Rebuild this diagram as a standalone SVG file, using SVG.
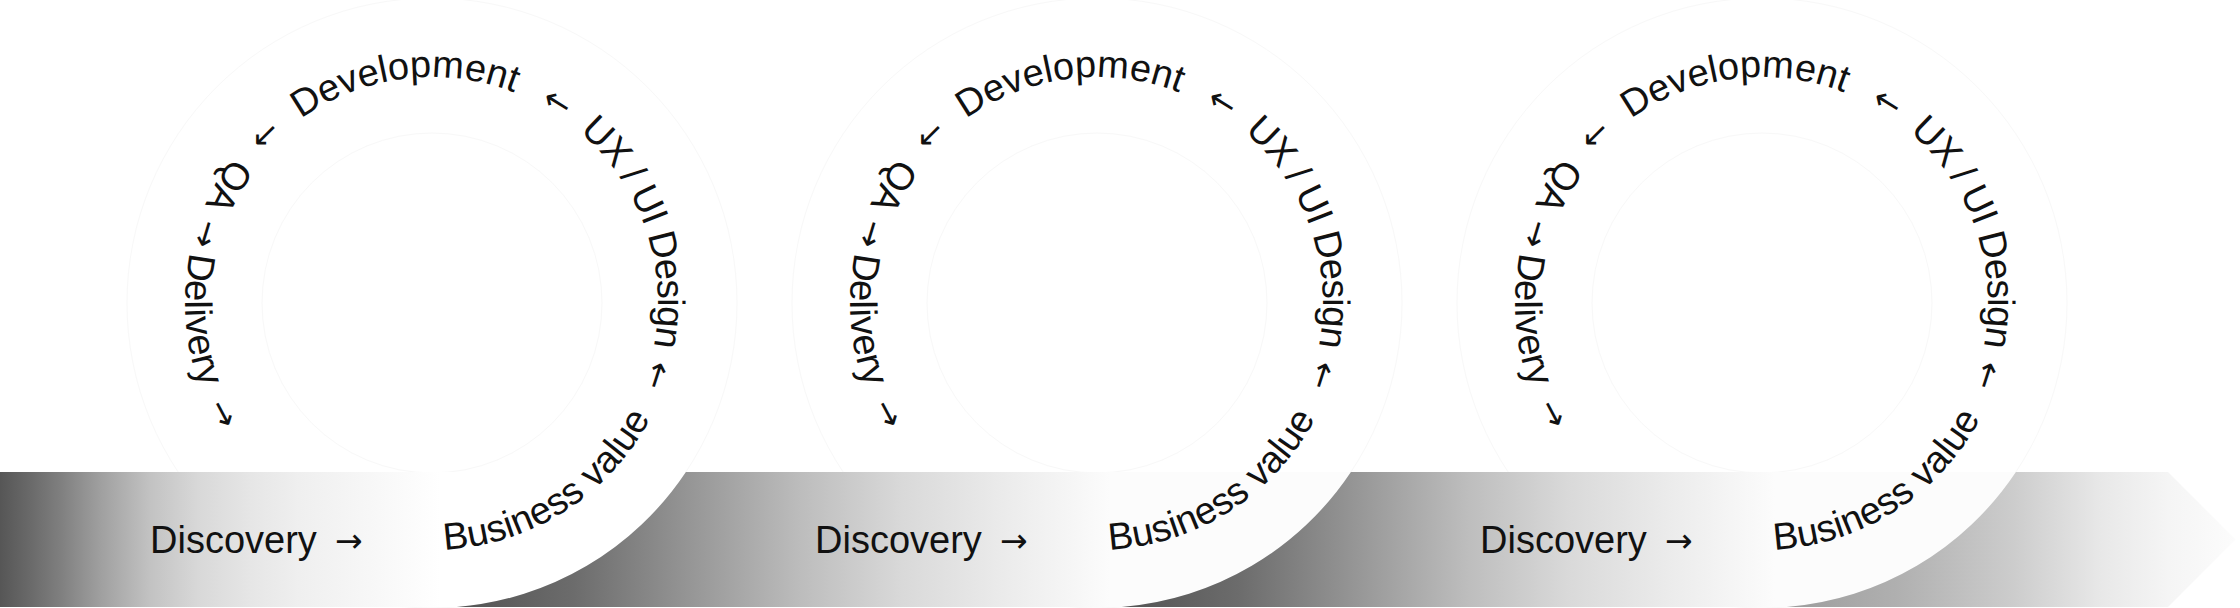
<svg xmlns="http://www.w3.org/2000/svg" xmlns:xlink="http://www.w3.org/1999/xlink" width="2240" height="608" viewBox="0 0 2240 608">
<style>
.lbl{font-family:"Liberation Sans",Arial,sans-serif;font-size:38px;fill:#111}
.tight{letter-spacing:-1px}
.arr{font-family:"DejaVu Sans","Liberation Sans",sans-serif;font-size:33px;fill:#111}
.faint{fill:none;stroke:#f8f8f8;stroke-width:1}
</style>
<defs>
<linearGradient id="g1" gradientUnits="userSpaceOnUse" x1="0" y1="0" x2="440" y2="0">
<stop offset="0" stop-color="#565656"/><stop offset="0.07" stop-color="#6a6a6a"/><stop offset="0.14" stop-color="#808080"/><stop offset="0.23" stop-color="#a0a0a0"/><stop offset="0.34" stop-color="#c2c2c2"/><stop offset="0.45" stop-color="#d8d8d8"/><stop offset="0.57" stop-color="#e6e6e6"/><stop offset="0.68" stop-color="#efefef"/><stop offset="0.9" stop-color="#fafafa"/><stop offset="1" stop-color="#ffffff"/>
</linearGradient>
<linearGradient id="g2" gradientUnits="userSpaceOnUse" x1="440" y1="0" x2="1110" y2="0">
<stop offset="0" stop-color="#4f4f4f"/><stop offset="0.2" stop-color="#6c6c6c"/><stop offset="0.37" stop-color="#959595"/><stop offset="0.54" stop-color="#bdbdbd"/><stop offset="0.69" stop-color="#d9d9d9"/><stop offset="0.84" stop-color="#ebebeb"/><stop offset="1" stop-color="#fcfcfc"/>
</linearGradient>
<linearGradient id="g3" gradientUnits="userSpaceOnUse" x1="1105" y1="0" x2="1775" y2="0">
<stop offset="0" stop-color="#4f4f4f"/><stop offset="0.2" stop-color="#6c6c6c"/><stop offset="0.37" stop-color="#959595"/><stop offset="0.54" stop-color="#bdbdbd"/><stop offset="0.69" stop-color="#d9d9d9"/><stop offset="0.84" stop-color="#ebebeb"/><stop offset="1" stop-color="#fcfcfc"/>
</linearGradient>
<linearGradient id="g4" gradientUnits="userSpaceOnUse" x1="1786" y1="0" x2="2236" y2="0">
<stop offset="0" stop-color="#9c9c9c"/><stop offset="0.25" stop-color="#b0b0b0"/><stop offset="0.51" stop-color="#cdcdcd"/><stop offset="0.7" stop-color="#e8e8e8"/><stop offset="0.85" stop-color="#f5f5f5"/><stop offset="1" stop-color="#fcfcfc"/>
</linearGradient>
<path id="cw" d="M206,303 A226,226 0 1 1 658,303 A226,226 0 1 1 206,303"/>
<path id="ccw" d="M432,550 A247,247 0 1 0 432,56 A247,247 0 1 0 432,550"/>
</defs>
<rect width="2240" height="608" fill="#fff"/>
<g id="guides">
<circle class="faint" cx="432" cy="303" r="305"/><circle class="faint" cx="432" cy="303" r="170"/>
<circle class="faint" cx="1097" cy="303" r="305"/><circle class="faint" cx="1097" cy="303" r="170"/>
<circle class="faint" cx="1762" cy="303" r="305"/><circle class="faint" cx="1762" cy="303" r="170"/>
</g>
<g id="band">
<path d="M0,472 H685.9 A305,305 0 0 1 456.7,607 H0 Z" fill="url(#g1)"/>
<path d="M685.9,472 H1350.9 A305,305 0 0 1 1121.7,607 H456.7 A305,305 0 0 0 685.9,472 Z" fill="url(#g2)"/>
<path d="M1350.9,472 H2015.9 A305,305 0 0 1 1786.7,607 H1121.7 A305,305 0 0 0 1350.9,472 Z" fill="url(#g3)"/>
<path d="M2015.9,472 H2168 L2235.5,539.5 L2168,607 H1786.7 A305,305 0 0 0 2015.9,472 Z" fill="url(#g4)"/>
</g>
<g id="cycle-1">
<g id="c1-discovery"><text class="lbl" x="150" y="553">Discovery<tspan class="arr" x="335" y="552">→</tspan></text></g>
<g id="c1-business-value"><text class="lbl" text-anchor="middle"><textPath href="#ccw" startOffset="140.1">Business value</textPath></text></g>
<g id="c1-uxui"><text class="lbl tight" text-anchor="middle"><textPath href="#cw" startOffset="634">UX / UI Design</textPath></text></g>
<g id="c1-development"><text class="lbl" text-anchor="middle"><textPath href="#cw" startOffset="327">Development</textPath></text></g>
<g id="c1-qa"><text class="lbl" text-anchor="middle"><textPath href="#ccw" startOffset="1035">QA</textPath></text></g>
<g id="c1-delivery"><text class="lbl" text-anchor="middle"><textPath href="#ccw" startOffset="1181.2">Delivery</textPath></text></g>
</g>
<g id="cycle-2" transform="translate(665,0)">
<g id="c2-discovery"><text class="lbl" x="150" y="553">Discovery<tspan class="arr" x="335" y="552">→</tspan></text></g>
<g id="c2-business-value"><text class="lbl" text-anchor="middle"><textPath href="#ccw" startOffset="140.1">Business value</textPath></text></g>
<g id="c2-uxui"><text class="lbl tight" text-anchor="middle"><textPath href="#cw" startOffset="634">UX / UI Design</textPath></text></g>
<g id="c2-development"><text class="lbl" text-anchor="middle"><textPath href="#cw" startOffset="327">Development</textPath></text></g>
<g id="c2-qa"><text class="lbl" text-anchor="middle"><textPath href="#ccw" startOffset="1035">QA</textPath></text></g>
<g id="c2-delivery"><text class="lbl" text-anchor="middle"><textPath href="#ccw" startOffset="1181.2">Delivery</textPath></text></g>
</g>
<g id="cycle-3" transform="translate(1330,0)">
<g id="c3-discovery"><text class="lbl" x="150" y="553">Discovery<tspan class="arr" x="335" y="552">→</tspan></text></g>
<g id="c3-business-value"><text class="lbl" text-anchor="middle"><textPath href="#ccw" startOffset="140.1">Business value</textPath></text></g>
<g id="c3-uxui"><text class="lbl tight" text-anchor="middle"><textPath href="#cw" startOffset="634">UX / UI Design</textPath></text></g>
<g id="c3-development"><text class="lbl" text-anchor="middle"><textPath href="#cw" startOffset="327">Development</textPath></text></g>
<g id="c3-qa"><text class="lbl" text-anchor="middle"><textPath href="#ccw" startOffset="1035">QA</textPath></text></g>
<g id="c3-delivery"><text class="lbl" text-anchor="middle"><textPath href="#ccw" startOffset="1181.2">Delivery</textPath></text></g>
</g>
<g id="connectors">
<g id="arrows-1">
<text class="arr" text-anchor="middle"><textPath href="#cw" startOffset="178">←</textPath></text>
<text class="arr" text-anchor="middle"><textPath href="#cw" startOffset="481">←</textPath></text>
<text class="arr" text-anchor="middle"><textPath href="#cw" startOffset="780">←</textPath></text>
<text class="arr" text-anchor="middle"><textPath href="#ccw" startOffset="1090.5">→</textPath></text>
<text class="arr" text-anchor="middle"><textPath href="#ccw" startOffset="1283.8">→</textPath></text>
</g>
<g id="arrows-2" transform="translate(665,0)">
<text class="arr" text-anchor="middle"><textPath href="#cw" startOffset="178">←</textPath></text>
<text class="arr" text-anchor="middle"><textPath href="#cw" startOffset="481">←</textPath></text>
<text class="arr" text-anchor="middle"><textPath href="#cw" startOffset="780">←</textPath></text>
<text class="arr" text-anchor="middle"><textPath href="#ccw" startOffset="1090.5">→</textPath></text>
<text class="arr" text-anchor="middle"><textPath href="#ccw" startOffset="1283.8">→</textPath></text>
</g>
<g id="arrows-3" transform="translate(1330,0)">
<text class="arr" text-anchor="middle"><textPath href="#cw" startOffset="178">←</textPath></text>
<text class="arr" text-anchor="middle"><textPath href="#cw" startOffset="481">←</textPath></text>
<text class="arr" text-anchor="middle"><textPath href="#cw" startOffset="780">←</textPath></text>
<text class="arr" text-anchor="middle"><textPath href="#ccw" startOffset="1090.5">→</textPath></text>
<text class="arr" text-anchor="middle"><textPath href="#ccw" startOffset="1283.8">→</textPath></text>
</g>
</g>
</svg>
